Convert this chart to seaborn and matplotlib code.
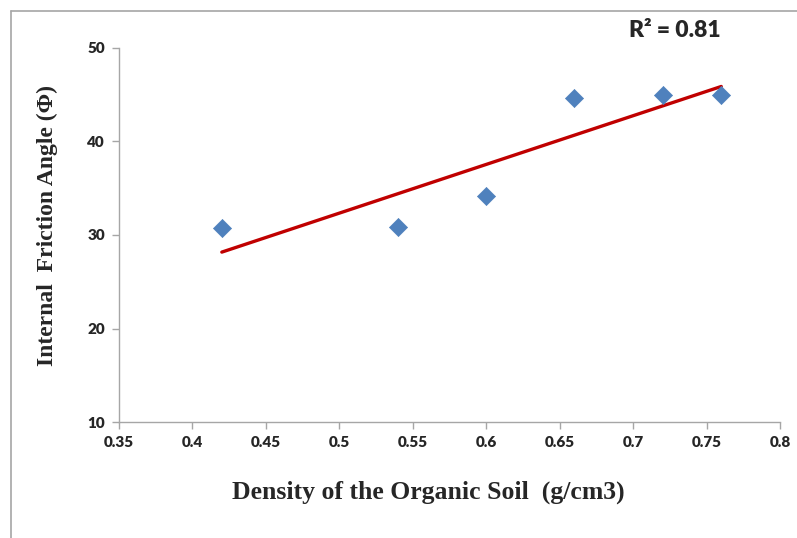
import numpy as np
import pandas as pd
import matplotlib
matplotlib.use("Agg")
import matplotlib.pyplot as plt
from matplotlib.lines import Line2D
import seaborn as sns

# Measured samples
density = [0.42, 0.54, 0.60, 0.66, 0.72, 0.76]
friction_angle = [30.7, 30.9, 34.2, 44.7, 45.0, 45.0]
x_ticks = [0.35, 0.4, 0.45, 0.5, 0.55, 0.6, 0.65, 0.7, 0.75, 0.8]
y_ticks = [10, 20, 30, 40, 50]

df = pd.DataFrame({"density": density, "phi": friction_angle})

sns.set_style("white")
plt.rcParams["font.family"] = ["Lato", "DejaVu Sans"]

fig = plt.figure(figsize=(7.97, 5.38), dpi=100)
ax = fig.add_axes([0.1493, 0.2156, 0.8294, 0.6952])

# Linear trend line
sns.regplot(data=df, x="density", y="phi", ax=ax, ci=None, scatter=False,
            truncate=True, color="#C00000", line_kws={"linewidth": 2.4})
# Data points
sns.scatterplot(data=df, x="density", y="phi", ax=ax, marker="D", s=85,
                color="#4F81BD", edgecolor="#4F81BD", linewidth=0.5, zorder=3)

slope, intercept = np.polyfit(density, friction_angle, 1)
pred = np.polyval([slope, intercept], density)
y_arr = np.array(friction_angle)
r2 = 1 - np.sum((y_arr - pred) ** 2) / np.sum((y_arr - y_arr.mean()) ** 2)

ax.set_xlim(0.35, 0.8)
ax.set_ylim(10, 50)
ax.set_xticks(x_ticks)
ax.set_xticklabels([f"{t:g}" for t in x_ticks])
ax.set_yticks(y_ticks)
for lab in ax.get_xticklabels() + ax.get_yticklabels():
    lab.set_fontweight("heavy")
    lab.set_fontsize(11)
ax.tick_params(axis="both", direction="out", length=5, width=1, color="#A6A6A6",
               bottom=True, left=True, pad=5)

for side in ["top", "right"]:
    ax.spines[side].set_visible(False)
for side in ["left", "bottom"]:
    ax.spines[side].set_color("#A6A6A6")
    ax.spines[side].set_linewidth(1)

ax.set_xlabel("")
ax.set_ylabel("")
fig.text(0.538, 0.0855, "Density of the Organic Soil  (g/cm3)",
         fontfamily="Liberation Serif", fontweight="bold", fontsize=18.5,
         ha="center", va="center")
fig.text(0.060, 0.580, "Internal  Friction Angle (\u03a6)",
         fontfamily="Liberation Serif", fontweight="bold", fontsize=17,
         ha="center", va="center", rotation=90)
fig.text(0.847, 0.944, f"R\u00b2 = {r2:.2f}", fontweight="heavy", fontsize=16.5,
         ha="center", va="center")

# Outer frame
fig.add_artist(Line2D([0.0138, 1.0], [0.9795, 0.9795], transform=fig.transFigure,
                      color="#A6A6A6", linewidth=1.2))
fig.add_artist(Line2D([0.0138, 0.0138], [0.0, 0.9795], transform=fig.transFigure,
                      color="#A6A6A6", linewidth=1.2))

fig.savefig("out.png", dpi=100, facecolor="white")
